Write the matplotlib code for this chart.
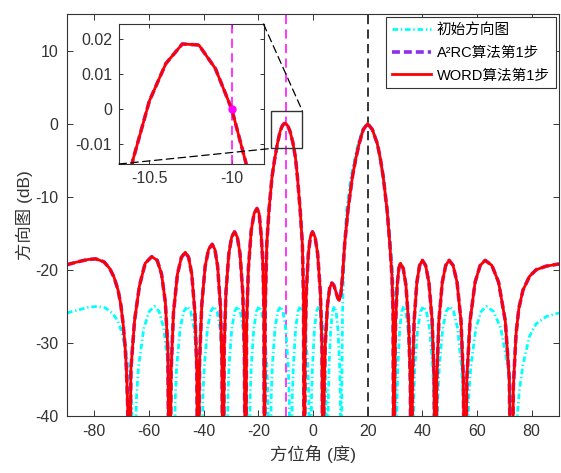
import matplotlib.pyplot as plt
from matplotlib.patches import Rectangle, ConnectionPatch

plt.rcParams['font.family'] = ['Liberation Sans', 'Noto Sans CJK SC']
plt.rcParams['axes.unicode_minus'] = False

# (angle deg, level dB); nulls set below the axis floor
red_pts = [
    (-90, -19.3), (-86, -18.9), (-82.5, -18.6), (-79.5, -18.5), (-76.5, -18.9), (-74.4, -19.8),
    (-72.8, -21.0), (-71.3, -22.8), (-70.3, -24.8), (-69.5, -27.3), (-68.8, -30.2), (-68.3, -33.3),
    (-67.8, -38.5), (-67.4, -60),
    (-66.6, -33.5), (-65.3, -27.0), (-63.5, -22.2), (-61.4, -19.1), (-59.0, -18.2), (-57.0, -18.7),
    (-55.4, -20.6), (-54.0, -24.5), (-53.1, -31.0), (-52.5, -60),
    (-51.9, -33.7), (-51.05, -25.9), (-49.6, -20.6), (-48.15, -18.3), (-46.7, -17.6), (-45.5, -18.3),
    (-44.35, -20.6), (-43.2, -25.9), (-42.5, -33.7), (-42.0, -60),
    (-41.5, -32.6), (-40.7, -24.8), (-39.45, -19.5), (-38.2, -17.2), (-36.9, -16.5), (-35.9, -17.2),
    (-34.9, -19.5), (-33.9, -24.8), (-33.3, -32.6), (-32.9, -60),
    (-32.5, -30.9), (-31.85, -23.1), (-30.8, -17.8), (-29.75, -15.5), (-28.7, -14.8), (-27.7, -15.5),
    (-26.7, -17.8), (-25.7, -23.1), (-25.1, -30.9), (-24.7, -60),
    (-24.3, -27.7), (-23.65, -19.9), (-22.6, -14.6), (-21.55, -12.3), (-20.5, -11.6), (-19.7, -12.3),
    (-18.9, -15.5), (-18.3, -19.5), (-17.95, -25.5), (-17.75, -60),
    (-17.5, -25.5), (-16.9, -16.4), (-16.1, -11.8), (-15.0, -7.3), (-14.0, -4.8), (-13.0, -2.7),
    (-12.0, -1.0), (-11.2, -0.28), (-10.7, -0.040), (-10.6, -0.0145), (-10.5, 0.0024), (-10.4, 0.0131),
    (-10.3, 0.0187), (-10.2, 0.0184), (-10.1, 0.0117), (-10.0, 0.0), (-9.9, -0.0179), (-9.8, -0.043),
    (-9.2, -0.33), (-8.4, -1.05), (-7.3, -2.7), (-6.4, -4.7), (-5.7, -7.3), (-4.7, -11.8),
    (-3.9, -16.4), (-3.45, -24.0), (-3.2, -60),
    (-2.9, -30.9), (-2.45, -23.1), (-1.7, -17.8), (-0.95, -15.5), (-0.2, -14.8), (0.75, -15.5),
    (1.7, -17.8), (2.7, -23.1), (3.3, -30.9), (3.7, -60),
    (4.0, -37.9), (4.5, -30.1), (5.3, -24.8), (6.1, -22.5), (6.9, -21.8), (7.6, -22.1),
    (8.3, -22.9), (9.0, -23.8), (9.6, -24.2), (10.2, -23.3), (10.8, -20.9), (11.6, -16.4),
    (12.8, -11.8), (14.4, -7.3), (15.6, -4.9), (16.9, -2.7), (18.4, -0.8), (20.0, 0.0),
    (21.7, -0.8), (23.5, -2.7), (24.6, -4.7), (25.7, -7.3), (27.1, -11.8), (28.1, -16.4),
    (28.9, -20.9), (29.3, -26.0), (29.6, -60),
    (29.85, -35.2), (30.2, -27.4), (30.8, -22.1), (31.4, -19.8), (32.0, -19.1), (33.0, -19.8),
    (34.0, -22.1), (35.0, -27.4), (35.6, -35.2), (36.0, -60),
    (36.4, -34.8), (37.0, -27.0), (38.0, -21.7), (39.0, -19.4), (40.0, -18.7), (41.2, -19.4),
    (42.4, -21.7), (43.6, -27.0), (44.3, -34.8), (44.8, -60),
    (45.3, -34.8), (46.05, -27.0), (47.3, -21.7), (48.55, -19.4), (49.8, -18.7), (51.25, -19.4),
    (52.7, -21.7), (54.15, -27.0), (55.0, -34.8), (55.6, -60),
    (56.3, -34.8), (57.45, -27.0), (59.3, -21.7), (61.15, -19.4), (63.0, -18.7), (65.45, -19.4),
    (67.9, -21.7), (70.35, -27.0), (71.8, -34.8), (72.8, -60),
    (73.3, -36.0), (74.3, -28.7), (75.3, -25.3), (76.8, -22.8), (79.2, -20.9), (81.6, -20.0),
    (85.3, -19.5), (90, -19.2),
]

cyan_pts = [
    (-90, -25.9), (-86, -25.5), (-82.5, -25.15), (-79, -25.0), (-76, -25.2), (-73.5, -25.9),
    (-71.5, -26.9), (-70, -28.5), (-68.5, -31.0), (-67.2, -34.5), (-66.3, -38.5), (-65.8, -60),
    (-64.6, -37.6), (-63.85, -33.3), (-61.9, -28.0), (-59.95, -25.7), (-58.0, -25.0), (-56.3, -25.7),
    (-54.6, -28.0), (-52.9, -33.3), (-52.2, -37.6), (-51.2, -60),
    (-50.4, -37.6), (-49.9, -33.3), (-48.6, -28.0), (-47.3, -25.7), (-46.0, -25.0), (-44.75, -25.7),
    (-43.5, -28.0), (-42.25, -33.3), (-41.75, -37.6), (-41.0, -60),
    (-40.3, -37.6), (-39.8, -33.3), (-38.6, -28.0), (-37.4, -25.7), (-36.2, -25.0), (-35.1, -25.7),
    (-34.0, -28.0), (-32.9, -33.3), (-32.5, -37.6), (-31.8, -60),
    (-31.15, -37.6), (-30.75, -33.3), (-29.7, -28.0), (-28.65, -25.7), (-27.6, -25.0), (-26.6, -25.7),
    (-25.6, -28.0), (-24.6, -33.3), (-24.2, -37.6), (-23.6, -60),
    (-23.0, -37.6), (-22.6, -33.3), (-21.65, -28.0), (-20.7, -25.7), (-19.7, -25.0), (-18.75, -25.7),
    (-17.8, -28.0), (-16.85, -33.3), (-16.5, -37.6), (-15.9, -60),
    (-15.3, -37.6), (-14.9, -33.3), (-13.9, -28.0), (-12.9, -25.7), (-11.9, -25.0), (-10.95, -25.7),
    (-10.0, -28.0), (-9.05, -33.3), (-8.7, -37.6), (-8.1, -60),
    (-7.6, -37.6), (-7.2, -33.3), (-6.35, -28.0), (-5.5, -25.7), (-4.6, -25.0), (-3.7, -25.7),
    (-2.8, -28.0), (-1.9, -33.3), (-1.55, -37.6), (-1.0, -60),
    (-0.55, -37.6), (-0.2, -33.3), (0.55, -28.0), (1.3, -25.7), (2.1, -25.0), (2.9, -25.7),
    (3.65, -28.0), (4.4, -33.3), (4.75, -37.6), (5.2, -60),
    (5.6, -37.6), (5.85, -33.3), (6.5, -28.0), (7.15, -25.7), (7.8, -25.0), (8.45, -25.7),
    (9.1, -28.0), (9.75, -33.3), (10.0, -37.6), (10.4, -60),
    (10.55, -36.0), (10.8, -26.0), (11.3, -18.0), (12.3, -11.8), (13.9, -7.3), (16.5, -2.7),
    (18.2, -0.8), (20.0, 0.0), (21.8, -0.8), (23.5, -2.7), (25.7, -7.3), (27.2, -11.8),
    (28.3, -16.4), (29.2, -20.9), (29.8, -26.0), (30.1, -33.0), (30.3, -60),
    (30.75, -37.6), (31.0, -33.3), (31.75, -28.0), (32.5, -25.7), (33.2, -25.0), (33.95, -25.7),
    (34.7, -28.0), (35.45, -33.3), (35.75, -37.6), (36.2, -60),
    (36.85, -37.6), (37.25, -33.3), (38.3, -28.0), (39.35, -25.7), (40.4, -25.0), (41.5, -25.7),
    (42.65, -28.0), (43.8, -33.3), (44.2, -37.6), (44.9, -60),
    (45.65, -37.6), (46.2, -33.3), (47.45, -28.0), (48.7, -25.7), (50.0, -25.0), (51.45, -25.7),
    (52.9, -28.0), (54.35, -33.3), (54.95, -37.6), (55.8, -60),
    (56.95, -37.6), (57.7, -33.3), (59.6, -28.0), (61.5, -25.7), (63.4, -25.0), (66.05, -25.7),
    (68.7, -28.0), (71.35, -33.3), (72.4, -37.6), (74.0, -60),
    (74.6, -40.5), (75.5, -36.5), (76.8, -33.0), (79.2, -29.1), (81.6, -27.4), (85.3, -26.4),
    (90, -25.9),
]

labels = ['初始方向图', 'A²RC算法第1步', 'WORD算法第1步']
target_deg = 20
constraint_deg = -10
constraint_db = 0.0

red_deg = [p[0] for p in red_pts]
red_db = [p[1] for p in red_pts]
cyan_deg = [p[0] for p in cyan_pts]
cyan_db = [p[1] for p in cyan_pts]

axis_col = '#333333'
purple = '#9130E8'

fig = plt.figure(figsize=(5.61, 4.73), dpi=100)
ax = fig.add_axes([67 / 561, 57 / 473, 492 / 561, 402 / 473])

ax.axvline(target_deg, color='k', ls=(0, (6, 3.5)), lw=1.1, zorder=1.5)
ax.axvline(constraint_deg, color='#FF00FF', ls=(0, (6, 3.5)), lw=1.1, zorder=1.5)

l1, = ax.plot(cyan_deg, cyan_db, color='#00FFFF', ls=(0, (2, 1, 0.5, 1)), lw=2.0)
l2, = ax.plot(red_deg, red_db, color=purple, ls=(0, (2.2, 1.1)), lw=2.6)
l3, = ax.plot(red_deg, red_db, color='#FF0000', lw=2.0)

ax.add_patch(Rectangle((-15.3, -3.4), 11.4, 5.15, fill=False, ec=axis_col, lw=1.0, zorder=3))

ax.set_xlim(-90, 90)
ax.set_ylim(-40, 15)
ax.set_xticks(range(-80, 81, 20))
ax.set_yticks(range(-40, 11, 10))
ax.tick_params(direction='in', top=True, right=True, length=4, width=0.7,
               labelsize=11.5, colors=axis_col, pad=6)
for s in ax.spines.values():
    s.set_color(axis_col)
    s.set_linewidth(0.8)
ax.set_xlabel('方位角 (度)', fontsize=12.5, color=axis_col, labelpad=4)
ax.set_ylabel('方向图 (dB)', fontsize=12.5, color=axis_col, labelpad=2)

leg = ax.legend([l1, l2, l3], labels, loc='upper right', bbox_to_anchor=(0.993, 0.992),
                fancybox=False, edgecolor=axis_col, framealpha=1, fontsize=10.5,
                handlelength=2.7, borderpad=0.4, labelspacing=0.6, handletextpad=0.4,
                borderaxespad=0)
leg.get_frame().set_linewidth(0.8)

# inset zoom around the -10 deg constraint
axins = fig.add_axes([119 / 561, 309 / 473, 144.5 / 561, 140 / 473])
axins.axvline(constraint_deg, color='#FF00FF', ls=(0, (6, 3.5)), lw=1.1)
axins.plot(red_deg, red_db, color=purple, ls=(0, (2.2, 1.1)), lw=2.6)
axins.plot(red_deg, red_db, color='#FF0000', lw=2.0)
axins.plot([constraint_deg], [constraint_db], 'o', color='#FF00FF', ms=5, zorder=5)
axins.set_xlim(-10.684, -9.808)
axins.set_ylim(-0.0156, 0.0244)
axins.set_xticks([-10.5, -10])
axins.set_xticklabels(['-10.5', '-10'])
axins.set_yticks([-0.01, 0, 0.01, 0.02])
axins.set_yticklabels(['-0.01', '0', '0.01', '0.02'])
axins.tick_params(direction='in', top=True, right=True, length=3, width=0.7,
                  labelsize=11.5, colors=axis_col, pad=5)
for s in axins.spines.values():
    s.set_color(axis_col)
    s.set_linewidth(0.8)

for xa, xb in [((1, 1), (-3.9, 1.75)), ((0, 0), (-15.3, -3.4))]:
    con = ConnectionPatch(xyA=xa, coordsA=axins.transAxes, xyB=xb, coordsB=ax.transData,
                          color='k', ls=(0, (6, 3.5)), lw=0.9)
    fig.add_artist(con)

fig.savefig('out.png', dpi=100)
